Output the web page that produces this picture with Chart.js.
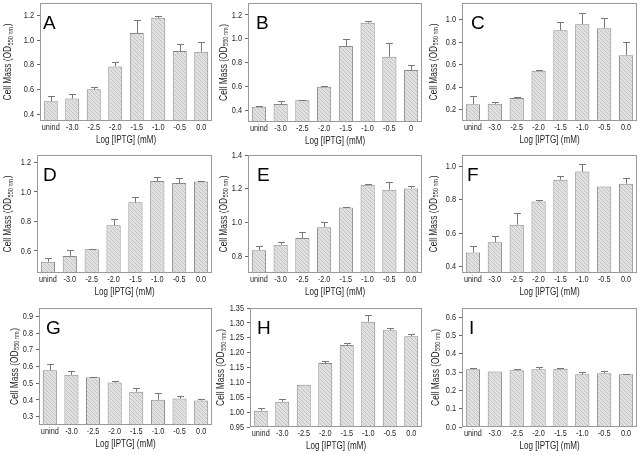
<!DOCTYPE html>
<html>
<head>
<meta charset="UTF-8">
<title>Cell mass vs IPTG</title>
<script src="https://cdn.jsdelivr.net/npm/chart.js"></script>
<style>
  body { margin: 0; background: #fff; }
  #wrap { position: relative; width: 640px; height: 455px; }
  #wrap canvas { position: absolute; }
</style>
</head>
<body>
<div id="wrap"></div>
<script>
  // categories
  const doses = ['unind', '-3.0', '-2.5', '-2.0', '-1.5', '-1.0', '-0.5', '0.0'];
  const dosesB = ['unind', '-3.0', '-2.5', '-2.0', '-1.5', '-1.0', '-0.5', '0'];

  // cell mass (OD550) and upper error per panel
  const massA = [0.505, 0.527, 0.601, 0.786, 1.057, 1.180, 0.912, 0.906];
  const errA  = [0.040, 0.035, 0.022, 0.040, 0.105, 0.015, 0.056, 0.080];
  const massB = [0.428, 0.451, 0.482, 0.597, 0.938, 1.135, 0.848, 0.738];
  const errB  = [0.006, 0.028, 0.005, 0.006, 0.062, 0.011, 0.113, 0.045];
  const massC = [0.250, 0.253, 0.304, 0.547, 0.908, 0.961, 0.926, 0.686];
  const errC  = [0.069, 0.012, 0.006, 0.006, 0.071, 0.104, 0.089, 0.115];
  const massD = [0.526, 0.566, 0.611, 0.774, 0.929, 1.074, 1.060, 1.071];
  const errD  = [0.024, 0.041, 0.003, 0.043, 0.036, 0.025, 0.032, 0.003];
  const massE = [0.835, 0.868, 0.907, 0.972, 1.088, 1.223, 1.194, 1.202];
  const errE  = [0.025, 0.014, 0.035, 0.031, 0.006, 0.002, 0.043, 0.015];
  const massF = [0.483, 0.545, 0.651, 0.790, 0.921, 0.970, 0.881, 0.897];
  const errF  = [0.042, 0.039, 0.070, 0.012, 0.024, 0.044, 0.000, 0.032];
  const massG = [0.577, 0.550, 0.536, 0.504, 0.449, 0.401, 0.409, 0.397];
  const errG  = [0.040, 0.023, 0.002, 0.008, 0.023, 0.038, 0.012, 0.010];
  const massH = [1.005, 1.035, 1.092, 1.165, 1.226, 1.304, 1.275, 1.255];
  const errH  = [0.010, 0.008, 0.000, 0.007, 0.006, 0.021, 0.007, 0.008];
  const massI = [0.316, 0.303, 0.310, 0.316, 0.318, 0.288, 0.294, 0.288];
  const errI  = [0.009, 0.000, 0.007, 0.011, 0.007, 0.011, 0.012, 0.004];

  // y tick labels
  const ticksA = [0.4, 0.6, 0.8, 1.0, 1.2];
  const ticksB = [0.4, 0.6, 0.8, 1.0, 1.2];
  const ticksC = [0.2, 0.4, 0.6, 0.8, 1.0];
  const ticksD = [0.6, 0.8, 1.0, 1.2];
  const ticksE = [0.8, 1.0, 1.2, 1.4];
  const ticksF = [0.4, 0.6, 0.8, 1.0];
  const ticksG = [0.3, 0.4, 0.5, 0.6, 0.7, 0.8, 0.9];
  const ticksH = [0.95, 1.00, 1.05, 1.10, 1.15, 1.20, 1.25, 1.30, 1.35];
  const ticksI = [0.0, 0.1, 0.2, 0.3, 0.4, 0.5, 0.6];

  // panel table: data refs + axis range + layout (cell, plot box, label spots)
  const panels = [
    { id: 'A', labels: doses,  mass: massA, err: errA, ticks: ticksA, min: 0.345, max: 1.3,  dp: 1, cell: [0, 0, 213, 148],     plot: [40, 3, 212, 121],    letterX: 43, titleX: 8.5 },
    { id: 'B', labels: dosesB, mass: massB, err: errB, ticks: ticksB, min: 0.3,   max: 1.3,  dp: 1, cell: [213, 0, 213, 148],   plot: [248, 3, 422, 122],   letterX: 256, titleX: 11 },
    { id: 'C', labels: doses,  mass: massC, err: errC, ticks: ticksC, min: 0.1,   max: 1.15, dp: 1, cell: [426, 0, 214, 148],   plot: [462, 3, 637, 121],   letterX: 471, titleX: 8 },
    { id: 'D', labels: doses,  mass: massD, err: errD, ticks: ticksD, min: 0.45,  max: 1.25, dp: 1, cell: [0, 148, 213, 152],   plot: [37, 155, 212, 273],  letterX: 43, titleX: 8.5 },
    { id: 'E', labels: doses,  mass: massE, err: errE, ticks: ticksE, min: 0.7,   max: 1.4,  dp: 1, cell: [213, 148, 213, 152], plot: [248, 155, 422, 273], letterX: 257, titleX: 11 },
    { id: 'F', labels: doses,  mass: massF, err: errF, ticks: ticksF, min: 0.36,  max: 1.07, dp: 1, cell: [426, 148, 214, 152], plot: [462, 155, 637, 273], letterX: 467, titleX: 8 },
    { id: 'G', labels: doses,  mass: massG, err: errG, ticks: ticksG, min: 0.25,  max: 0.95, dp: 1, cell: [0, 300, 213, 155],   plot: [39, 308, 212, 425],  letterX: 46, titleX: 15 },
    { id: 'H', labels: doses,  mass: massH, err: errH, ticks: ticksH, min: 0.95,  max: 1.35, dp: 2, cell: [213, 300, 213, 155], plot: [250, 308, 422, 427], letterX: 257, titleX: 8.5 },
    { id: 'I', labels: doses,  mass: massI, err: errI, ticks: ticksI, min: 0,     max: 0.65, dp: 1, cell: [426, 300, 214, 155], plot: [462, 308, 637, 427], letterX: 469, titleX: 10 }
  ];

  const FONT = "'Liberation Sans', Arial, sans-serif";
  const SQUEEZE = 0.77;   // the source used a narrow face

  function hatch() {
    const c = document.createElement('canvas');
    c.width = 4; c.height = 4;
    const g = c.getContext('2d');
    g.fillStyle = '#e0e0e0';
    g.fillRect(0, 0, 4, 4);
    g.fillStyle = '#c4c4c4';
    for (let i = 0; i < 4; i++) g.fillRect(i, i, 1, 1);
    return g.createPattern(c, 'repeat');
  }

  function narrowText(ctx, text, x, y, align) {
    ctx.save();
    ctx.translate(x, y);
    ctx.scale(SQUEEZE, 1);
    ctx.textAlign = align;
    ctx.fillText(text, 0, 0);
    ctx.restore();
  }

  // error bars (upper only), frame, tick labels, panel letter, axis titles
  const decor = {
    id: 'decor',
    afterDatasetsDraw(chart, args, opts) {
      const { ctx, chartArea: a, scales: { x, y } } = chart;
      const ds = chart.data.datasets[0];
      ctx.save();
      ctx.strokeStyle = '#777';
      ctx.lineWidth = 1;
      chart.getDatasetMeta(0).data.forEach((bar, i) => {
        const e = ds.errors[i];
        if (!e) return;
        const bx = Math.round(bar.x) + 0.5;
        const yt = Math.round(y.getPixelForValue(ds.data[i] + e)) + 0.5;
        ctx.beginPath();
        ctx.moveTo(bx, bar.y);
        ctx.lineTo(bx, yt);
        ctx.moveTo(bx - 3.5, yt);
        ctx.lineTo(bx + 3.5, yt);
        ctx.stroke();
      });

      ctx.strokeStyle = '#999';
      ctx.strokeRect(a.left + 0.5, a.top + 0.5, a.width - 1, a.height - 1);

      // tick labels
      ctx.fillStyle = '#1e1e1e';
      ctx.font = '9.5px ' + FONT;
      ctx.textBaseline = 'middle';
      chart.data.labels.forEach((lab, i) => {
        narrowText(ctx, lab, x.getPixelForTick(i), a.bottom + 6.5, 'center');
      });
      y.ticks.forEach(t => {
        narrowText(ctx, t.value.toFixed(opts.dp), a.left - 6, y.getPixelForValue(t.value), 'right');
      });

      ctx.fillStyle = '#000';
      ctx.font = '19px ' + FONT;
      ctx.textBaseline = 'alphabetic';
      ctx.textAlign = 'left';
      ctx.fillText(opts.letter, opts.letterX, a.top + 26);

      // x title
      ctx.fillStyle = '#1e1e1e';
      ctx.font = '10.5px ' + FONT;
      ctx.textBaseline = 'middle';
      narrowText(ctx, 'Log [IPTG] (mM)', (a.left + a.right) / 2, a.bottom + 19, 'center');

      // y title with subscript
      const main = 'Cell Mass (OD';
      const sub = '550 nm';
      ctx.font = '10.5px ' + FONT;
      const w1 = ctx.measureText(main).width;
      const w3 = ctx.measureText(')').width;
      ctx.font = '7px ' + FONT;
      const w2 = ctx.measureText(sub).width + 1;
      const total = w1 + w2 + w3;
      ctx.translate(opts.titleX, (a.top + a.bottom) / 2);
      ctx.rotate(-Math.PI / 2);
      ctx.scale(0.8, 1);
      ctx.textAlign = 'left';
      const x0 = -total / 2;
      ctx.font = '10.5px ' + FONT;
      ctx.fillText(main, x0, 0);
      ctx.font = '7px ' + FONT;
      ctx.fillText(sub, x0 + w1 + 0.5, 2.5);
      ctx.font = '10.5px ' + FONT;
      ctx.fillText(')', x0 + w1 + w2, 0);
      ctx.restore();
    }
  };

  const wrap = document.getElementById('wrap');
  const pattern = hatch();

  panels.forEach(p => {
    const [cx, cy, cw, ch] = p.cell;
    const [pl, pt, pr, pb] = p.plot;
    const cv = document.createElement('canvas');
    cv.width = cw; cv.height = ch;
    cv.style.left = cx + 'px';
    cv.style.top = cy + 'px';
    wrap.appendChild(cv);

    new Chart(cv, {
      type: 'bar',
      data: {
        labels: p.labels,
        datasets: [{
          data: p.mass,
          errors: p.err,
          backgroundColor: pattern,
          borderColor: '#888',
          borderWidth: 1,
          barPercentage: 0.65,
          categoryPercentage: 1
        }]
      },
      options: {
        responsive: false,
        animation: false,
        devicePixelRatio: 1,
        layout: { padding: { top: pt - cy, right: cx + cw - pr, left: 0, bottom: 0 } },
        plugins: {
          legend: { display: false },
          tooltip: { enabled: false },
          decor: { letter: p.id, letterX: p.letterX - cx, titleX: p.titleX, dp: p.dp }
        },
        scales: {
          x: {
            grid: { display: false, drawTicks: false, tickLength: 0 },
            border: { display: false },
            ticks: { display: false },
            afterFit: s => { s.height = cy + ch - pb; }
          },
          y: {
            min: p.min,
            max: p.max,
            grid: { drawOnChartArea: false, tickLength: 3, color: '#666' },
            border: { display: false },
            ticks: { display: false },
            afterBuildTicks: s => { s.ticks = p.ticks.map(v => ({ value: v })); },
            afterFit: s => { s.width = pl - cx; }
          }
        }
      },
      plugins: [decor]
    });
  });
</script>
</body>
</html>
